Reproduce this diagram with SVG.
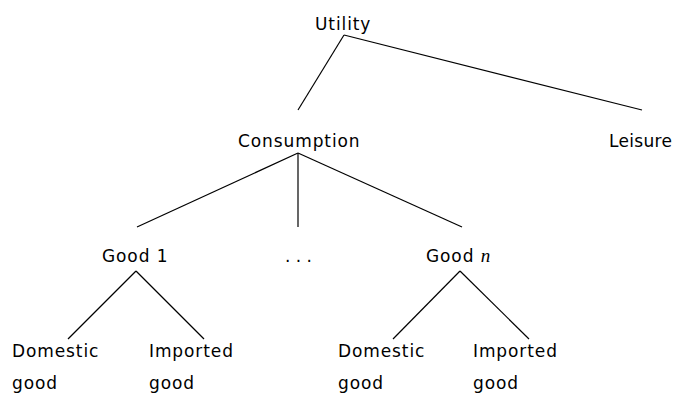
<svg xmlns="http://www.w3.org/2000/svg" width="676" height="394" viewBox="0 0 676 394">
<style>
text{font-family:"DejaVu Sans","Noto Sans",sans-serif;font-size:17px;letter-spacing:0.9px;fill:#000}
.c line{stroke:#000;stroke-width:1.2;fill:none}
</style>
<rect width="676" height="394" fill="#fff"/>
<g class="c" id="connectors">
<line x1="344" y1="35" x2="298" y2="110"/>
<line x1="344" y1="35" x2="642" y2="110"/>
<line x1="298" y1="153" x2="137" y2="227"/>
<line x1="298" y1="153" x2="298" y2="227"/>
<line x1="298" y1="153" x2="462" y2="227"/>
<line x1="136" y1="271" x2="68" y2="339"/>
<line x1="136" y1="271" x2="204" y2="339"/>
<line x1="460" y1="271" x2="393" y2="339"/>
<line x1="460" y1="271" x2="529" y2="339"/>
</g>
<g id="utility"><text x="315" y="30">Utility</text></g>
<g id="consumption"><text x="238" y="147">Consumption</text></g>
<g id="leisure"><text x="609" y="147" style="letter-spacing:0.3px">Leisure</text></g>
<g id="good1"><text x="102" y="262">Good 1</text></g>
<g id="dots"><text x="285" y="262" style="letter-spacing:0px">. . .</text></g>
<g id="goodn"><text x="426" y="262">Good <tspan font-family="'Liberation Serif',serif" font-style="italic" font-size="19px">n</tspan></text></g>
<g id="dom1"><text x="12" y="357">Domestic</text><text x="12" y="389">good</text></g>
<g id="imp1"><text x="149" y="357">Imported</text><text x="149" y="389">good</text></g>
<g id="domn"><text x="338" y="357">Domestic</text><text x="338" y="389">good</text></g>
<g id="impn"><text x="473" y="357">Imported</text><text x="473" y="389">good</text></g>
</svg>
